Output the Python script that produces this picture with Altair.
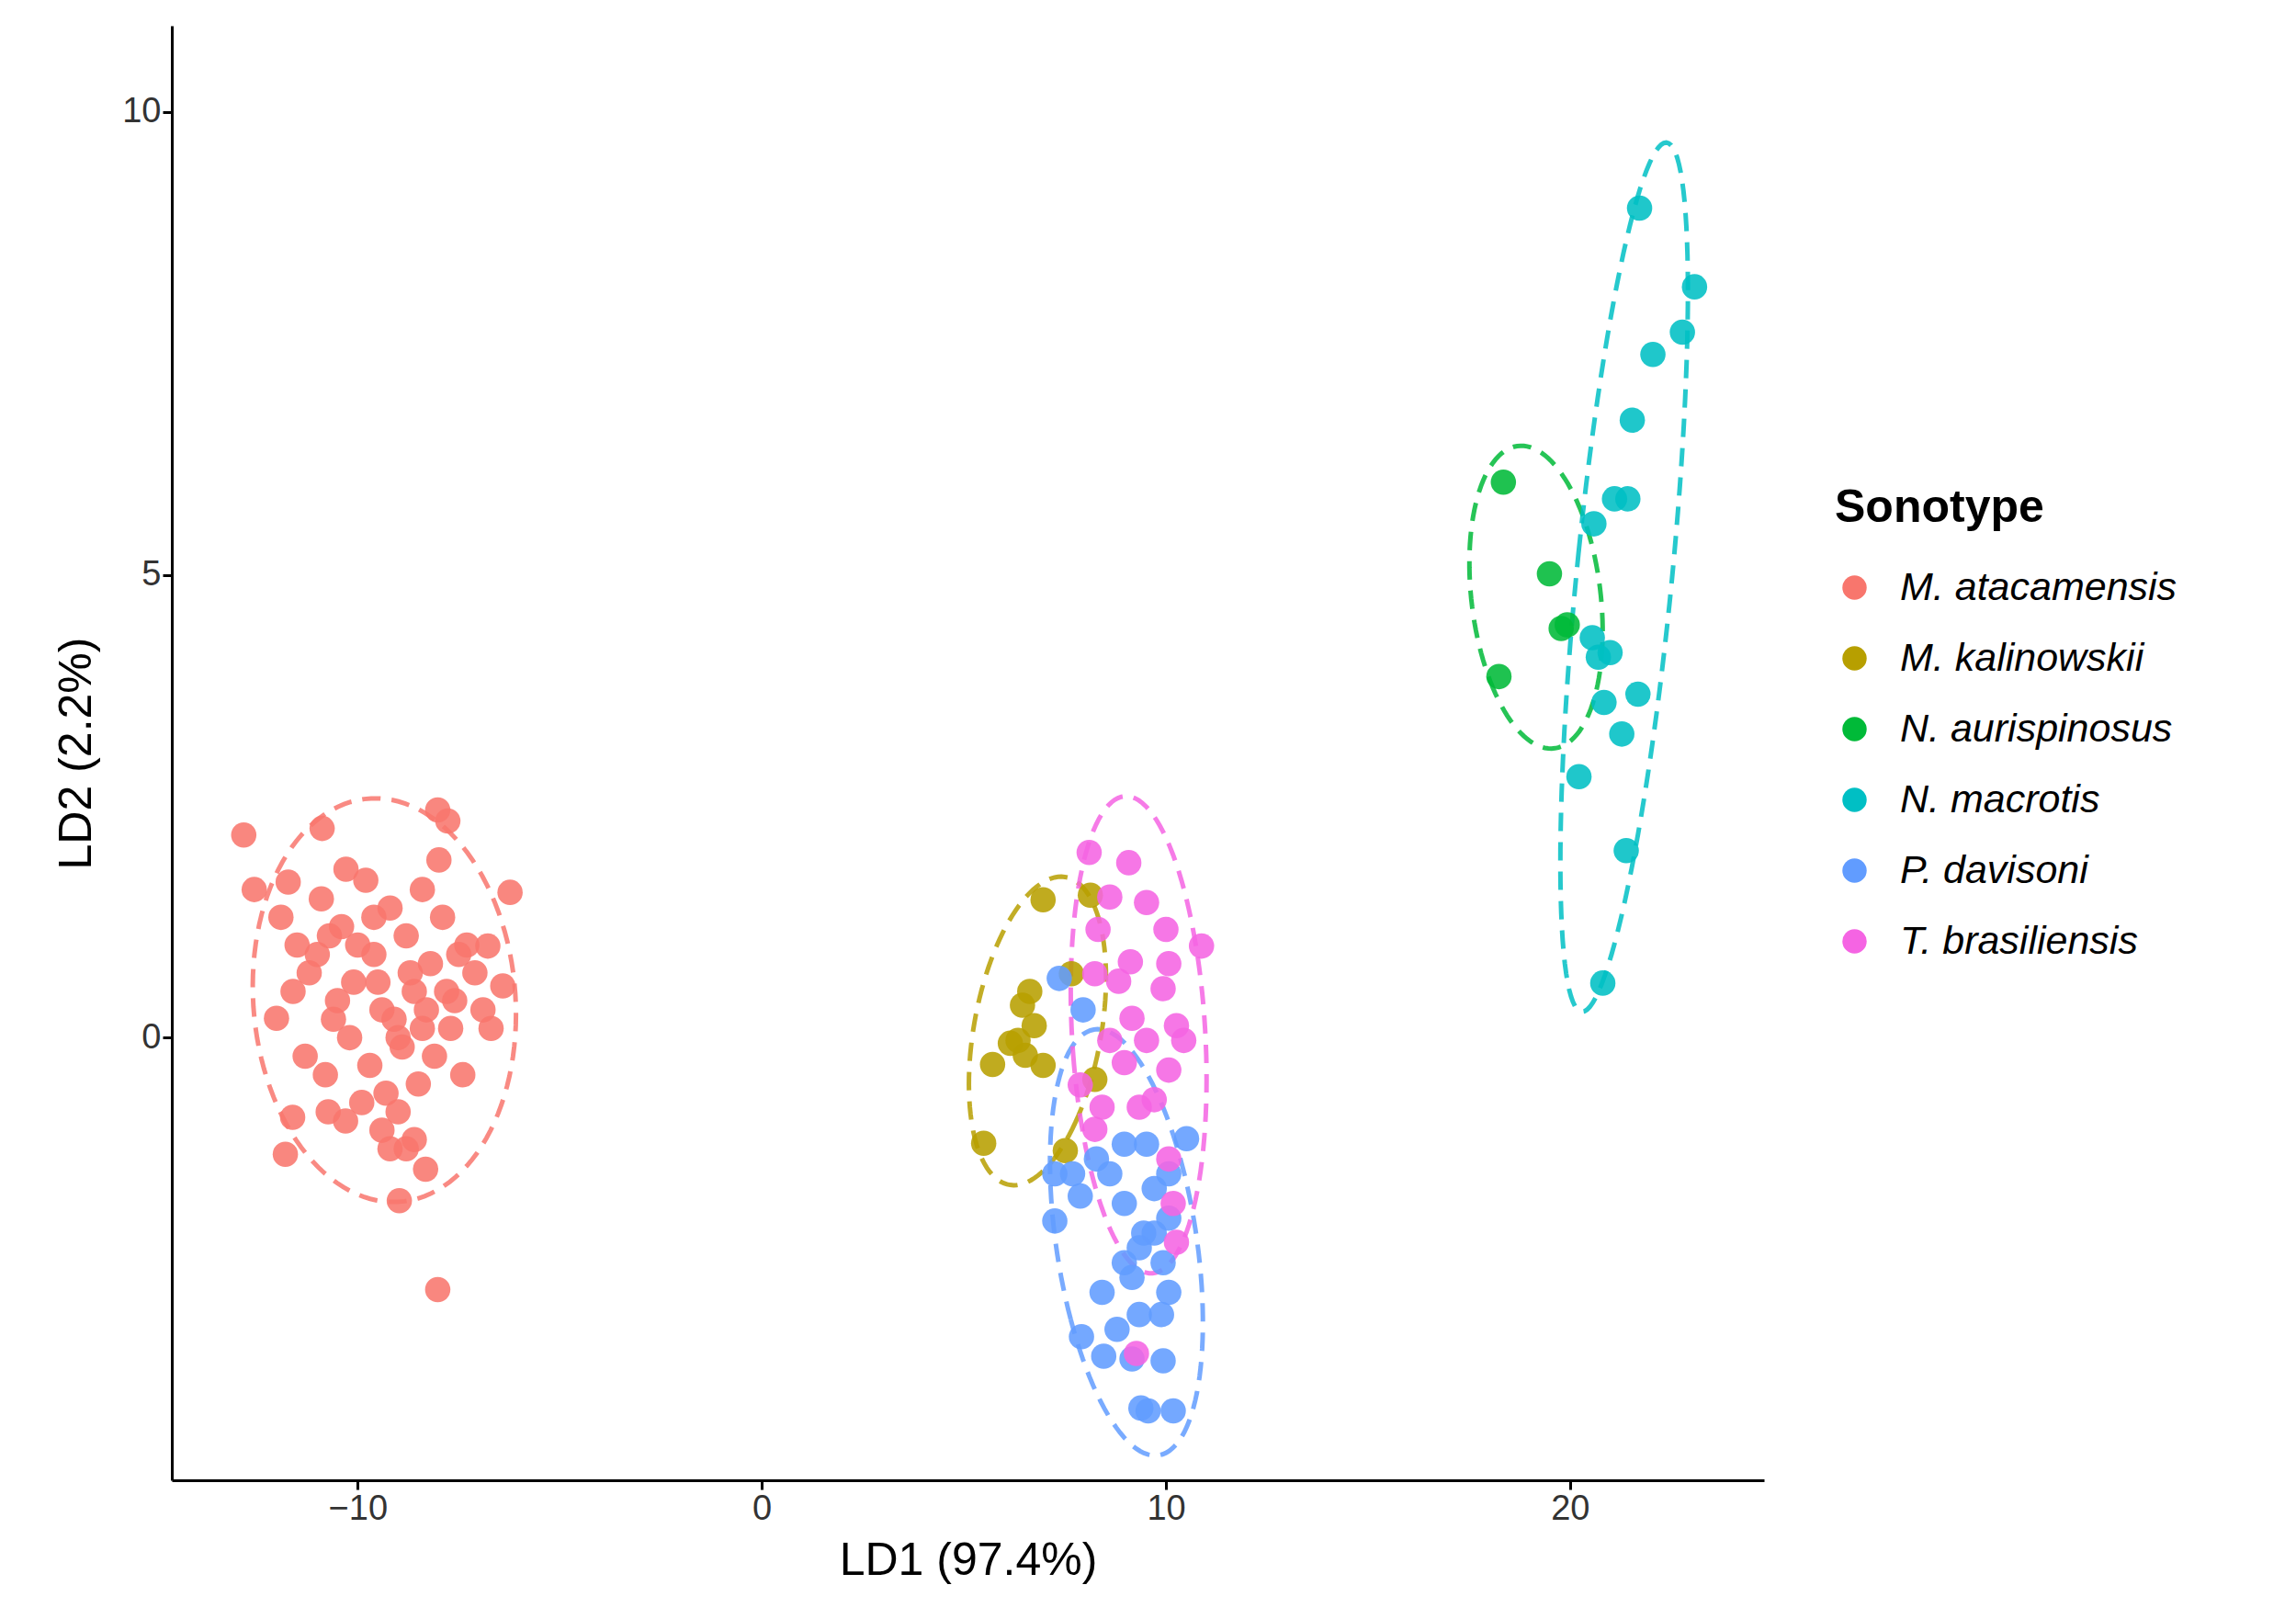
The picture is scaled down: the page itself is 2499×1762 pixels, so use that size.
import altair as alt
import numpy as np
import pandas as pd

species = ["M. atacamensis", "M. kalinowskii", "N. aurispinosus",
           "N. macrotis", "P. davisoni", "T. brasiliensis"]
colors = ["#F8766D", "#B79F00", "#00BA38", "#00BFC4", "#619CFF", "#F564E3"]

ata_x = [-12.82, -12.56, -11.72, -10.88, -10.29, -8.02, -7.77, -7.99, -6.23, -6.78,
         -6.41, -6.70, -12.01, -11.61, -11.79, -10.73, -8.97, -8.32, -8.02,
         -11.9, -11.5, -11.2, -10.9, -10.6, -10.4, -10.1, -9.8, -9.6, -9.4, -9.2,
         -9.0, -8.8, -8.6, -8.4, -8.2, -7.9, -7.6, -7.3, -7.1, -6.9,
         -11.3, -10.8, -10.2, -9.7, -9.3, -8.9, -8.5, -8.1, -7.7, -7.4,
         -11.0, -10.5, -10.0, -9.5, -9.1, -8.7, -8.3, -7.8, -11.6, -9.9,
         -9.4, -9.0, -8.6, -10.3, -8.8, -9.2, -7.5, -10.7, -9.6, -8.4]
ata_y = [2.19, 1.60, 1.68, 2.26, 1.82, 2.46, 2.34, 1.92, 1.57, 0.99,
         0.56, 0.10, 0.21, -0.86, -1.26, -0.80, -1.76, -1.42, -2.72,
         1.30, 1.00, 0.70, 1.50, 0.20, 1.20, 0.60, 1.70, 0.90, 0.30, 1.40,
         0.00, 1.10, 0.50, 1.60, 0.80, 1.30, 0.40, 1.00, 0.70, 0.30,
         -0.20, -0.40, 0.00, -0.30, -0.60, -0.10, -0.50, -0.20, 0.10, -0.40,
         0.90, 0.40, 1.00, 0.60, 0.20, 0.70, 0.30, 0.50, 0.50, -0.70,
         -1.00, -0.80, -1.10, -0.90, -1.20, -1.20, 0.90, 1.10, 1.30, 0.10]

kal_x = [6.96, 8.13, 6.63, 6.45, 6.74, 6.15, 6.52, 5.71, 6.96, 5.49, 7.51, 8.24, 7.66, 6.34]
kal_y = [1.49, 1.54, 0.50, 0.35, 0.13, -0.06, -0.19, -0.29, -0.30, -1.14, -1.22, -0.45, 0.69, -0.03]

aur_x = [18.35, 19.49, 19.78, 19.93, 18.24]
aur_y = [6.00, 5.01, 4.42, 4.46, 3.90]

mac_x = [21.72, 23.08, 22.78, 22.05, 21.54, 21.43, 21.10, 20.59, 20.55, 20.99,
         20.70, 20.84, 21.68, 21.28, 20.22, 21.39, 20.81]
mac_y = [8.96, 8.11, 7.62, 7.38, 6.67, 5.82, 5.82, 5.55, 4.32, 4.16,
         4.11, 3.62, 3.71, 3.28, 2.82, 2.02, 0.59]

dav_x = [7.36, 7.95, 7.25, 7.69, 7.25, 8.28, 8.97, 9.52, 10.51, 10.07, 7.88, 8.97,
         9.45, 9.93, 8.97, 8.42, 10.07, 9.34, 7.91, 8.46, 9.16, 9.93, 9.38, 9.56,
         10.18, 9.71, 9.16, 9.89, 8.79, 9.71, 8.61, 10.07, 9.34]
dav_y = [0.64, 0.30, -1.47, -1.47, -1.98, -1.31, -1.15, -1.15, -1.09, -1.47, -1.71, -1.79,
         -2.11, -2.43, -2.43, -2.75, -2.75, -2.99, -3.23, -3.44, -3.47, -3.49, -4.00, -4.03,
         -4.03, -2.11, -2.59, -2.99, -3.15, -1.63, -1.47, -1.95, -2.27]

bra_x = [8.10, 9.08, 8.61, 9.52, 8.32, 10.00, 10.88, 9.12, 8.24, 10.07, 8.83, 9.93,
         10.26, 9.52, 8.61, 7.88, 8.97, 10.07, 8.42, 9.34, 8.24, 9.71, 10.18, 10.26,
         9.27, 10.07, 9.16, 10.44]
bra_y = [2.00, 1.89, 1.52, 1.46, 1.17, 1.17, 0.99, 0.82, 0.69, 0.80, 0.61, 0.53,
         0.13, -0.03, -0.03, -0.51, -0.27, -0.35, -0.75, -0.75, -0.99, -0.67, -1.79, -2.21,
         -3.41, -1.31, 0.21, -0.03]

groups = [(ata_x, ata_y), (kal_x, kal_y), (aur_x, aur_y),
          (mac_x, mac_y), (dav_x, dav_y), (bra_x, bra_y)]

pts = pd.concat([pd.DataFrame({"LD1": gx, "LD2": gy, "Sonotype": s})
                 for s, (gx, gy) in zip(species, groups)], ignore_index=True)

# data ellipses computed from each group's covariance
ell_rows = []
t = np.linspace(0, 2 * np.pi, 121)
for s, (gx, gy) in zip(species, groups):
    xy = np.column_stack([gx, gy])
    mu = xy.mean(axis=0)
    vals, vecs = np.linalg.eigh(np.cov(xy.T))
    circ = np.column_stack([np.cos(t), np.sin(t)]) * np.sqrt(vals) * 2.05
    for i, (ex, ey) in enumerate(circ @ vecs.T + mu):
        ell_rows.append({"LD1": ex, "LD2": ey, "Sonotype": s, "o": i})
ell = pd.DataFrame(ell_rows)

xs = alt.Scale(domain=[-14.6, 24.8], nice=False, zero=False)
ys = alt.Scale(domain=[-4.78, 10.93], nice=False, zero=False)
col = alt.Color("Sonotype:N", scale=alt.Scale(domain=species, range=colors),
                legend=alt.Legend(title="Sonotype", symbolType="circle", symbolSize=700,
                                  titleFontSize=50, titleFontWeight="bold", labelFontSize=43,
                                  labelFontStyle="italic", rowPadding=33, titlePadding=40,
                                  symbolOpacity=1, labelLimit=600, titleLimit=600,
                                  symbolStrokeWidth=0, orient="none",
                                  legendX=1810, legendY=500, labelOffset=28))

xax = alt.Axis(values=[-10, 0, 10, 20], format="d", grid=False, labelFontSize=38, titleFontSize=50,
               titleFontWeight="normal", domainColor="black", domainWidth=3, tickColor="black",
               tickWidth=3, tickSize=10, labelColor="#333", titleColor="black", titlePadding=12)
yax = alt.Axis(values=[0, 5, 10], format="d", grid=False, labelFontSize=38, titleFontSize=50,
               titleFontWeight="normal", domainColor="black", domainWidth=3, tickColor="black",
               tickWidth=3, tickSize=10, labelColor="#333", titleColor="black", titlePadding=24)

points = alt.Chart(pts).mark_circle(size=760, opacity=0.88).encode(
    x=alt.X("LD1:Q", scale=xs, axis=xax, title="LD1 (97.4%)"),
    y=alt.Y("LD2:Q", scale=ys, axis=yax, title="LD2 (2.2%)"),
    color=col,
)

ellipses = alt.Chart(ell).mark_line(strokeDash=[20, 12], strokeWidth=5, clip=True, opacity=0.85).encode(
    x=alt.X("LD1:Q", scale=xs), y=alt.Y("LD2:Q", scale=ys),
    color=col, detail="Sonotype:N", order="o:Q",
)

chart = alt.layer(ellipses, points).properties(
    width=1733, height=1583, background="white", padding={"left": 50, "top": 20, "right": 10, "bottom": 10}
).configure_view(stroke=None).configure_axis(labelFont="Arial", titleFont="Arial"
).configure_legend(labelFont="Arial", titleFont="Arial")

chart.save("out.html", embed_options={"renderer": "svg", "actions": False})
